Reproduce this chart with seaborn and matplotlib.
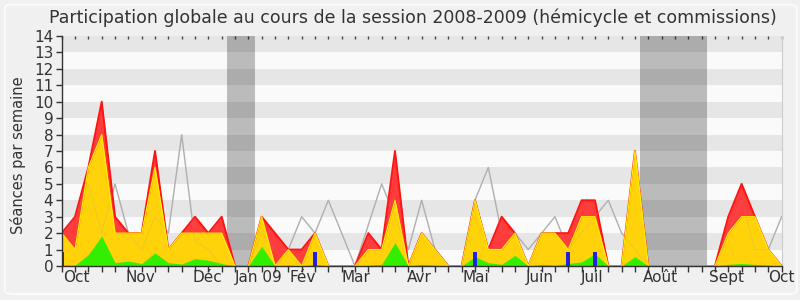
import numpy as np
import matplotlib
matplotlib.use("Agg")
import matplotlib.pyplot as plt
from matplotlib.patches import FancyBboxPatch
import seaborn as sns

# ---- data (weekly, session 2008-2009) ----
weeks = list(range(55))
total = [2, 3, 6, 10, 3, 2, 2, 7, 1, 2, 3, 2, 3, 0, 0, 3, 2, 1, 1, 2,
         0, 0, 0, 2, 1, 7, 0, 2, 1, 0, 0, 4, 1, 3, 2, 0, 2, 2, 2, 4,
         4, 0, 0, 7, 0, 0, 0, 0, 0, 0, 3, 5, 3, 1, 0]
hemicycle = [2, 1, 6, 8, 2, 2, 2, 6, 1, 2, 2, 2, 2, 0, 0, 3, 0, 1, 0, 2,
             0, 0, 0, 1, 1, 4, 0, 2, 1, 0, 0, 4, 1, 1, 2, 0, 2, 2, 1, 3,
             3, 0, 0, 7, 0, 0, 0, 0, 0, 0, 2, 3, 3, 1, 0]
interventions = [0.05, 0.05, 0.7, 1.83, 0.2, 0.3, 0.15, 0.8, 0.2, 0.12, 0.45, 0.35,
                 0.15, 0, 0, 1.2, 0, 0.05, 0, 0.1, 0, 0, 0, 0.05, 0.1, 1.42, 0,
                 0.1, 0.05, 0, 0, 0.57, 0.2, 0.1, 0.65, 0, 0.1, 0.05, 0.15, 0.25,
                 0.75, 0, 0, 0.57, 0, 0, 0, 0, 0, 0, 0.1, 0.15, 0.1, 0.05, 0]
median = [2, 3, 5, 2, 5, 2, 1, 3, 2, 8, 1.5, 1, 0, 0, 0, 2, 1, 1, 3, 2,
          4, 2, 0, 2.5, 5, 3, 1, 4, 1, 0, 0, 4, 6, 2, 2, 1, 2, 3, 1, 2,
          3, 4, 2, 1, 0, 0, 0, 0, 0, 0, 2, 4, 1, 1, 3]
question_weeks = [0, 19, 31, 38, 40]
question_vals = [0.87, 0.87, 0.87, 0.87, 0.87]
vacations = [(12.4, 14.5), (43.4, 48.4)]
month_labels = ["Oct", "Nov", "Déc", "Jan 09", "Fév", "Mar", "Avr", "Mai",
                "Juin", "Juil", "Août", "Sept", "Oct"]
month_pos = [1.13, 5.9, 10.9, 14.8, 18.1, 22.1, 26.8, 31.05, 35.9, 39.8,
             44.9, 49.9, 54.0]
title = "Participation globale au cours de la session 2008-2009 (hémicycle et commissions)"
ylabel = "Séances par semaine"

sns.set_style("white")
plt.rcParams['font.family'] = ['DejaVu Sans']

TXT = '#333333'
fig = plt.figure(figsize=(8, 3), dpi=100)
fig.patch.set_facecolor('#f0f0f0')
border = FancyBboxPatch((0.006, 0.02), 0.99, 0.965,
                        boxstyle='round,pad=0,rounding_size=0.012',
                        transform=fig.transFigure, facecolor='none',
                        edgecolor='#fbfbfb', lw=1.5, zorder=-1)
fig.patches.append(border)

ax = fig.add_axes([61.7 / 800, 34 / 300, 719.9 / 800, 230 / 300])
ax.set_facecolor('#fafafa')
for k in range(1, 14, 2):
    ax.axhspan(k, k + 1, color='#e6e6e6', lw=0, zorder=0)
for a, b in vacations:
    ax.axvspan(a, b, color='black', alpha=0.25, lw=0, zorder=0.5)

# median line behind the areas
sns.lineplot(x=weeks, y=median, ax=ax, color='#b4b4b4', lw=1, zorder=1)

ax.fill_between(weeks, 0, total, color='#ff3c3c', lw=0, zorder=2)
sns.lineplot(x=weeks, y=total, ax=ax, color='#ff1414', lw=1.4, zorder=2.1)
ax.fill_between(weeks, 0, hemicycle, color='#ffd20a', lw=0, zorder=3)
sns.lineplot(x=weeks, y=hemicycle, ax=ax, color='#ffec00', lw=0.9, zorder=3.1)
ax.fill_between(weeks, 0, interventions, color='#33ee00', lw=0, zorder=4)

# faint median line over the areas
sns.lineplot(x=weeks, y=median, ax=ax, color='#9a9a9a', lw=0.8, alpha=0.15, zorder=4.5)

ax.bar(question_weeks, question_vals, width=0.3, color='#2222dd', lw=0, zorder=5)

ax.set_xlim(0, 54)
ax.set_ylim(0, 14)
ax.set_yticks(range(15))
ax.set_yticklabels([str(v) for v in range(15)], fontsize=11, color=TXT)
ax.set_xticks(weeks)
ax.set_xticklabels([])
ax.tick_params(axis='x', which='major', direction='out', length=4, width=1,
               color=TXT, bottom=True)
ax.tick_params(axis='y', direction='out', length=4, width=1, color=TXT, left=True, pad=2)
ax.grid(False)
xform = ax.get_xaxis_transform()
for lab, pos in zip(month_labels, month_pos):
    ax.text(pos, -0.052, lab, transform=xform, ha='center', va='center',
            fontsize=11, color=TXT, clip_on=False)

top = ax.secondary_xaxis('top')
top.set_xticks(weeks)
top.set_xticklabels([])
top.tick_params(direction='in', length=2, width=1, color='#444444')
top.spines['top'].set_visible(False)

for s in ['left', 'bottom']:
    ax.spines[s].set_color(TXT)
    ax.spines[s].set_linewidth(1)
ax.spines['right'].set_color('#cccccc')
ax.spines['top'].set_visible(False)
for s in ax.spines.values():
    s.set_zorder(6)

ax.set_xlabel('')
ax.set_ylabel('')
fig.text(18 / 800, 1 - 155 / 300, ylabel, rotation=90, ha='center', va='center',
         fontsize=10.5, color=TXT)

fig.text(412.5 / 800, 1 - 18 / 300, title, ha='center', va='center',
         fontsize=12.5, color=TXT)

fig.savefig('out.png', dpi=100, facecolor=fig.get_facecolor())
